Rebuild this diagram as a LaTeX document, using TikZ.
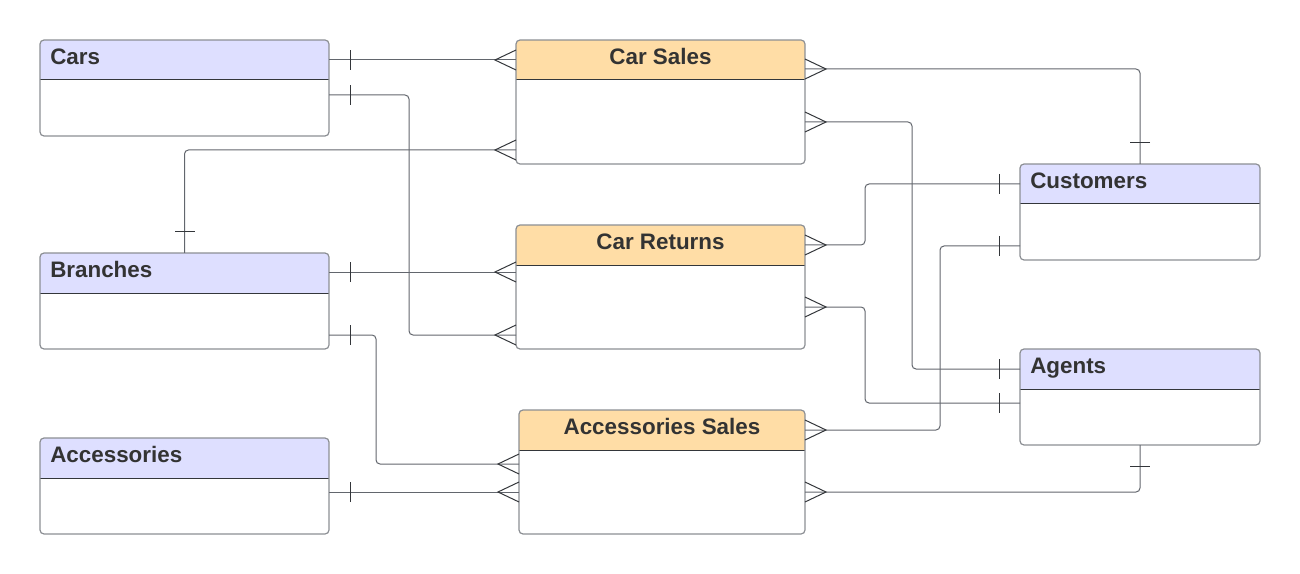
\documentclass[tikz,border=0pt]{standalone}
\usepackage{fontspec}
\setmainfont{Liberation Sans}
\usetikzlibrary{calc,fit,decorations.markings}
\definecolor{lineC}{HTML}{62666D}
\definecolor{boxC}{HTML}{8C8F94}
\definecolor{hdC}{HTML}{33363A}
\definecolor{txtC}{HTML}{333333}
\definecolor{lav}{HTML}{DEDFFF}
\definecolor{peach}{HTML}{FFDDA6}
\begin{document}
\begin{tikzpicture}[x=0.75pt,y=-0.75pt,
  erbox/.style={fill=white,inner sep=0pt,outer sep=0pt},
  erline/.style={draw=boxC,line width=0.9pt,rounded corners=3pt},
  hdsep/.style={draw=hdC,line width=0.75pt},
  entname/.style={anchor=base west,inner sep=0pt,font=\fontsize{16.8}{20}\selectfont\bfseries,text=txtC},
  relname/.style={entname,anchor=base},
  rel/.style={draw=lineC,line width=0.75pt,rounded corners=3pt},
  ermark/.style={draw=hdC,line width=0.75pt,sharp corners},
  one/.style={postaction={decorate,decoration={markings,mark=at position 15.75pt with {\draw[ermark] (0,-7.5pt) -- (0,7.5pt);}}}},
  many/.style={postaction={decorate,decoration={markings,mark=at position -15.75pt with {\draw[ermark] (15.75pt,7.5pt) -- (0,0) -- (15.75pt,-7.5pt);}}}}]
\useasboundingbox (0,0) rectangle (1300,574);

% name, header colour, corners
\def\erbox#1#2#3#4#5#6{%
  \node[erbox,fit={(#3,#4) (#5,#6)}] (#1) {};
  \begin{scope}
    \clip[rounded corners=3pt] (#1.north west) rectangle (#1.south east);
    \fill[#2] (#1.north west) rectangle ($(#1.north east)+(0,40)$);
  \end{scope}
  \draw[hdsep] ($(#1.north west)+(0,40)$) -- ($(#1.north east)+(0,40)$);
  \draw[erline] (#1.north west) rectangle (#1.south east);
}

\erbox{cars}{lav}{40}{40}{329}{136}
\erbox{branches}{lav}{40}{253}{329}{349}
\erbox{accessories}{lav}{40}{438}{329}{534}
\erbox{carsales}{peach}{516}{40}{805}{164}
\erbox{carreturns}{peach}{516}{225}{805}{349}
\erbox{accsales}{peach}{519}{410}{805}{534}
\erbox{customers}{lav}{1020}{164}{1260}{260}
\erbox{agents}{lav}{1020}{349}{1260}{445}

\node[entname] (carsT) at ($(cars.north west)+(10,24.5)$) {Cars};
\node[entname] (branchesT) at ($(branches.north west)+(10,24.5)$) {Branches};
\node[entname] (accessoriesT) at ($(accessories.north west)+(10,24.5)$) {Accessories};
\node[entname] (customersT) at ($(customers.north west)+(10,24.5)$) {Customers};
\node[entname] (agentsT) at ($(agents.north west)+(10,24.5)$) {Agents};
\node[relname] (carsalesT) at ($(carsales.north)+(0,24.5)$) {Car Sales};
\node[relname] (carreturnsT) at ($(carreturns.north)+(0,24.5)$) {Car Returns};
\node[relname] (accsalesT) at ($(accsales.north)+(0,24.5)$) {Accessories Sales};

% relations: one end first, many end last
\draw[rel,one,many] ($(cars.north east)+(0,20)$) -- ($(carsales.north west)+(0,20)$);
\draw[rel,one,many] ($(cars.north east)+(0,55)$) -- ++(80,0) |- ($(carreturns.north west)+(0,110)$);
\draw[rel,one,many] (customers.north) |- ($(carsales.north east)+(0,29)$);
\draw[rel,one,many] ($(agents.north west)+(0,20)$) -- ++(-108,0) |- ($(carsales.north east)+(0,82)$);
\draw[rel,one,many] (branches.north) |- ($(carsales.north west)+(0,110)$);
\draw[rel,one,many] ($(branches.north east)+(0,19)$) -- ($(carreturns.north west)+(0,47)$);
\draw[rel,one,many] ($(branches.north east)+(0,82)$) -- ++(47,0) |- ($(accsales.north west)+(0,54)$);
\draw[rel,one,many] ($(accessories.north east)+(0,54)$) -- ($(accsales.north west)+(0,82)$);
\draw[rel,one,many] ($(customers.north west)+(0,20)$) -- ++(-155,0) |- ($(carreturns.north east)+(0,20)$);
\draw[rel,one,many] ($(agents.north west)+(0,54)$) -- ++(-155,0) |- ($(carreturns.north east)+(0,82)$);
\draw[rel,one,many] ($(customers.north west)+(0,82)$) -- ++(-80,0) |- ($(accsales.north east)+(0,20)$);
\draw[rel,one,many] (agents.south) |- ($(accsales.north east)+(0,82)$);
\end{tikzpicture}
\end{document}
